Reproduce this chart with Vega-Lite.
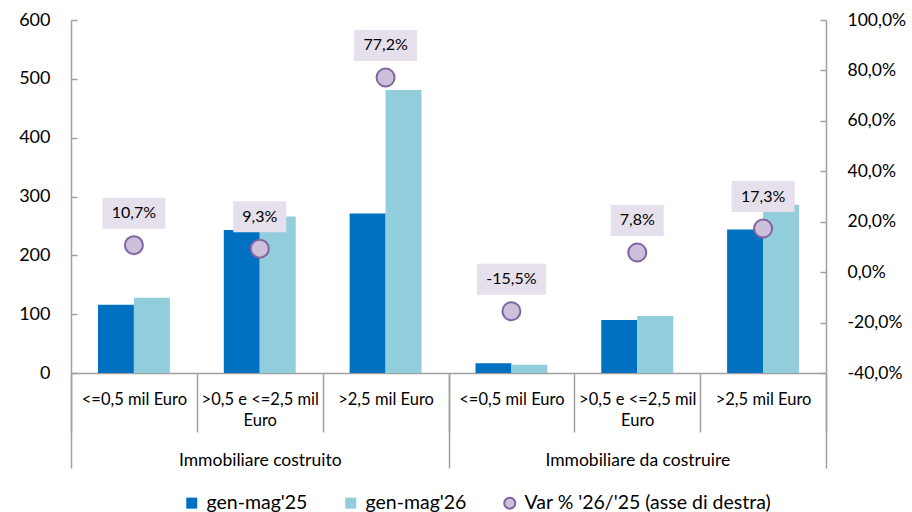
{
  "$schema": "https://vega.github.io/schema/vega-lite/v6.json",
  "width": 755,
  "height": 353,
  "autosize": {"type": "none"},
  "padding": {"left": 71, "top": 20, "right": 86, "bottom": 139},
  "background": "white",
  "config": {
    "locale": {"number": {"decimal": ",", "thousands": ".", "grouping": [3], "currency": ["", " €"], "minus": "-"}},
    "font": "Lato",
    "view": {"stroke": null},
    "axis": {"labelFont": "Lato", "labelColor": "#000000", "domainColor": "#a0a0a0", "tickColor": "#a0a0a0", "domainWidth": 1.5, "tickWidth": 1.5, "grid": false, "title": null}
  },
  "datasets": {
    "barre": [
      {"gruppo": "Immobiliare costruito", "categoria": "Immobiliare costruito: <=0,5 mil Euro", "serie": "gen-mag'25", "valore": 116},
      {"gruppo": "Immobiliare costruito", "categoria": "Immobiliare costruito: <=0,5 mil Euro", "serie": "gen-mag'26", "valore": 128},
      {"gruppo": "Immobiliare costruito", "categoria": "Immobiliare costruito: >0,5 e <=2,5 mil Euro", "serie": "gen-mag'25", "valore": 243},
      {"gruppo": "Immobiliare costruito", "categoria": "Immobiliare costruito: >0,5 e <=2,5 mil Euro", "serie": "gen-mag'26", "valore": 266},
      {"gruppo": "Immobiliare costruito", "categoria": "Immobiliare costruito: >2,5 mil Euro", "serie": "gen-mag'25", "valore": 271},
      {"gruppo": "Immobiliare costruito", "categoria": "Immobiliare costruito: >2,5 mil Euro", "serie": "gen-mag'26", "valore": 481},
      {"gruppo": "Immobiliare da costruire", "categoria": "Immobiliare da costruire: <=0,5 mil Euro", "serie": "gen-mag'25", "valore": 16.5},
      {"gruppo": "Immobiliare da costruire", "categoria": "Immobiliare da costruire: <=0,5 mil Euro", "serie": "gen-mag'26", "valore": 14},
      {"gruppo": "Immobiliare da costruire", "categoria": "Immobiliare da costruire: >0,5 e <=2,5 mil Euro", "serie": "gen-mag'25", "valore": 90},
      {"gruppo": "Immobiliare da costruire", "categoria": "Immobiliare da costruire: >0,5 e <=2,5 mil Euro", "serie": "gen-mag'26", "valore": 97},
      {"gruppo": "Immobiliare da costruire", "categoria": "Immobiliare da costruire: >2,5 mil Euro", "serie": "gen-mag'25", "valore": 244},
      {"gruppo": "Immobiliare da costruire", "categoria": "Immobiliare da costruire: >2,5 mil Euro", "serie": "gen-mag'26", "valore": 286}
    ],
    "variazioni": [
      {"gruppo": "Immobiliare costruito", "categoria": "Immobiliare costruito: <=0,5 mil Euro", "var": 0.107},
      {"gruppo": "Immobiliare costruito", "categoria": "Immobiliare costruito: >0,5 e <=2,5 mil Euro", "var": 0.093},
      {"gruppo": "Immobiliare costruito", "categoria": "Immobiliare costruito: >2,5 mil Euro", "var": 0.772},
      {"gruppo": "Immobiliare da costruire", "categoria": "Immobiliare da costruire: <=0,5 mil Euro", "var": -0.155},
      {"gruppo": "Immobiliare da costruire", "categoria": "Immobiliare da costruire: >0,5 e <=2,5 mil Euro", "var": 0.078},
      {"gruppo": "Immobiliare da costruire", "categoria": "Immobiliare da costruire: >2,5 mil Euro", "var": 0.173}
    ]
  },
  "layer": [
    {
      "layer": [
        {
          "data": {"name": "barre"},
          "mark": {"type": "bar"},
          "encoding": {
            "x": {
              "field": "categoria", "type": "nominal", "sort": null,
              "scale": {"paddingInner": 0, "paddingOuter": 0},
              "axis": {
                "orient": "bottom", "tickBand": "extent", "tickSize": 59, "labelPadding": -41,
                "labelFontSize": 16.5, "labelAngle": 0, "labelBaseline": "top", "labelLineHeight": 21, "labelLimit": 300,
                "labelExpr": "indexof(datum.label, '>0,5 e') >= 0 ? ['>0,5 e <=2,5 mil', 'Euro'] : substring(datum.label, indexof(datum.label, ': ') + 2)"
              }
            },
            "xOffset": {"field": "serie", "type": "nominal", "sort": null, "scale": {"paddingInner": 0, "paddingOuter": 0.75}},
            "y": {
              "field": "valore", "type": "quantitative",
              "scale": {"domain": [0, 600], "nice": false},
              "axis": {"orient": "left", "values": [0, 100, 200, 300, 400, 500, 600], "tickSize": -6, "labelPadding": 27, "labelFontSize": 18}
            },
            "color": {
              "field": "serie", "type": "nominal", "sort": null,
              "scale": {"domain": ["gen-mag'25", "gen-mag'26", "Var % '26/'25 (asse di destra)"], "range": ["#0070c0", "#92cddc", "#ccc0da"]},
              "legend": {
                "orient": "none", "legendX": 111, "legendY": 473, "direction": "horizontal", "title": null,
                "labelFontSize": 19.5, "labelFont": "Lato", "labelColor": "#000000", "labelLimit": 600, "symbolSize": 121, "labelOffset": 5, "columnPadding": 33,
                "symbolOpacity": 1,
                "encode": {
                  "symbols": {
                    "update": {
                      "shape": {"signal": "indexof(datum.value, 'Var') == 0 ? 'circle' : 'square'"},
                      "stroke": {"signal": "indexof(datum.value, 'Var') == 0 ? '#8064a2' : 'transparent'"},
                      "strokeWidth": {"value": 2}
                    }
                  }
                }
              }
            }
          }
        },
        {
          "data": {"name": "variazioni"},
          "encoding": {
            "x": {
              "field": "categoria", "type": "nominal", "sort": null,
              "scale": {"paddingInner": 0, "paddingOuter": 0},
              "axis": {
                "orient": "bottom", "tickBand": "extent", "tickSize": 59, "labelPadding": -41,
                "labelFontSize": 16.5, "labelAngle": 0, "labelBaseline": "top", "labelLineHeight": 21, "labelLimit": 300,
                "labelExpr": "indexof(datum.label, '>0,5 e') >= 0 ? ['>0,5 e <=2,5 mil', 'Euro'] : substring(datum.label, indexof(datum.label, ': ') + 2)"
              }
            },
            "y": {
              "field": "var", "type": "quantitative",
              "scale": {"domain": [-0.4, 1.0], "nice": false, "zero": false},
              "axis": {"orient": "right", "values": [-0.4, -0.2, 0, 0.2, 0.4, 0.6, 0.8, 1.0], "format": ".1%", "tickSize": -6, "labelPadding": 27, "labelFontSize": 17.5}
            }
          },
          "layer": [
            {
              "mark": {"type": "point", "filled": true, "opacity": 1, "fill": "#e6e0ec", "strokeWidth": 0},
              "encoding": {
                "shape": {
                  "condition": [
                    {"test": "datum['var'] < 0", "value": "M-0.958,-1.319H0.958V-0.458H-0.958Z"},
                    {"test": "abs(datum['var']) < 0.1", "value": "M-0.736,-1.319H0.736V-0.458H-0.736Z"}
                  ],
                  "value": "M-0.875,-1.319H0.875V-0.458H-0.875Z"
                },
                "size": {"value": 5184}
              }
            },
            {
              "mark": {"type": "point", "filled": true, "opacity": 1, "shape": "circle", "size": 324, "stroke": "#8064a2", "strokeWidth": 2},
              "encoding": {
                "color": {"datum": "Var % '26/'25 (asse di destra)"}
              }
            },
            {
              "mark": {"type": "text", "dy": -32, "fontSize": 16, "font": "Lato", "baseline": "middle", "color": "#000000"},
              "encoding": {
                "text": {"field": "var", "type": "quantitative", "format": ".1%"}
              }
            }
          ]
        }
      ],
      "resolve": {"scale": {"y": "independent"}}
    },
    {
      "data": {"name": "variazioni"},
      "mark": {"type": "bar", "opacity": 0},
      "encoding": {
        "x": {
          "field": "gruppo", "type": "nominal", "sort": null,
          "scale": {"paddingInner": 0, "paddingOuter": 0},
          "axis": {"orient": "bottom", "domain": false, "tickBand": "extent", "tickSize": 95, "labelPadding": -17, "labelFontSize": 17.5, "labelAngle": 0, "labelBaseline": "top", "labelLimit": 300}
        }
      }
    }
  ],
  "resolve": {"scale": {"x": "independent"}}
}
